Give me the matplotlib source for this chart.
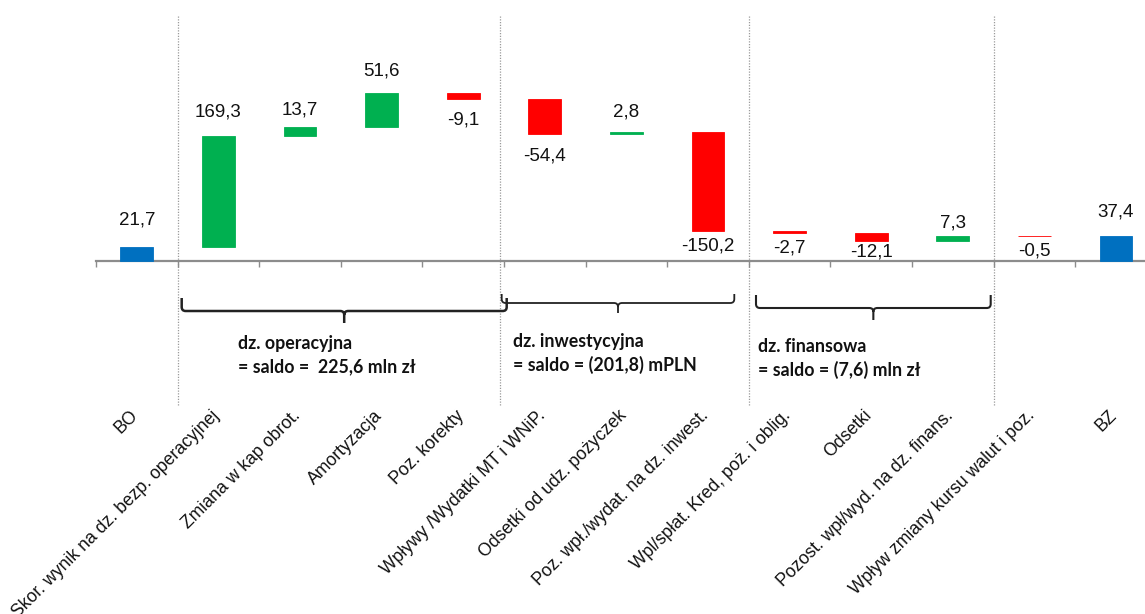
import numpy as np
import matplotlib
matplotlib.use('Agg')
import matplotlib.pyplot as plt
from matplotlib.path import Path
from matplotlib.patches import PathPatch

# ------------------------------------------------------------
# data
# ------------------------------------------------------------
categories = ['BO', 'Skor. wynik na dz. bezp. operacyjnej', 'Zmiana w kap obrot.',
              'Amortyzacja', 'Poz. korekty', 'Wpływy /Wydatki MT i WNiP.',
              'Odsetki od udz. pożyczek', 'Poz. wpł./wydat. na dz. inwest.',
              'Wpl/spłat. Kred, poż. i oblig.', 'Odsetki', 'Pozost. wpł/wyd. na dz. finans.',
              'Wpływ zmiany kursu walut i poz.', 'BZ']
values = [21.7, 169.3, 13.7, 51.6, -9.1, -54.4, 2.8, -150.2, -2.7, -12.1, 7.3, -0.5, 37.4]
is_total = [True] + [False] * 11 + [True]

group_names = ['dz. operacyjna', 'dz. inwestycyjna', 'dz. finansowa']
group_saldo = ['= saldo =  225,6 mln zł', '= saldo = (201,8) mPLN', '= saldo = (7,6) mln zł']

# ------------------------------------------------------------
# layout (pixels of the 1145x614 picture)
# ------------------------------------------------------------
W, H, DPI = 1145, 614, 100
X0_PX, STEP_PX = 96, 81.6
BASE_PX, PX_PER_UNIT = 261, 0.657

def px2x(px):
    return (px - X0_PX) / STEP_PX - 0.5

def py2y(py):
    return (BASE_PX - py) / PX_PER_UNIT

GREEN, RED, BLUE = '#00B050', '#FF0000', '#0070C0'
AXIS_GRAY = '#8C8C8C'

label_off_px = [27, 24, 17, 22, 21, 22, 20, 14.5, 15, 11, 13.5, 15, 24]

fig = plt.figure(figsize=(W / DPI, H / DPI), dpi=DPI)
n = len(values)
ax = fig.add_axes([X0_PX / W, 0, n * STEP_PX / W, 1])
ax.set_xlim(-0.5, n - 0.5)
ax.set_ylim(py2y(H), py2y(0))

# waterfall bottoms
bottoms, colors = [], []
running = 0.0
for v, tot in zip(values, is_total):
    if tot:
        bottoms.append(0.0)
        colors.append(BLUE)
        running = v
    else:
        bottoms.append(running if v >= 0 else running + v)
        colors.append(GREEN if v >= 0 else RED)
        running += v

x = np.arange(n)
heights = np.abs(values)
ax.bar(x, heights, bottom=bottoms, width=0.40, color=colors,
       edgecolor=colors, linewidth=0.6, zorder=3)

for i, v in enumerate(values):
    txt = ('%.1f' % v).replace('.', ',')
    if v >= 0:
        y = bottoms[i] + heights[i]
        off = label_off_px[i]
    else:
        y = bottoms[i]
        off = -label_off_px[i]
    ax.annotate(txt, (i, y), xytext=(0, off * 72 / DPI), textcoords='offset points',
                ha='center', va='center', fontsize=13.5, family='Liberation Sans',
                color='#111111', zorder=4)

# axis line with ticks at category boundaries
for s in ['top', 'right', 'left']:
    ax.spines[s].set_visible(False)
ax.spines['bottom'].set_position(('data', 0))
ax.spines['bottom'].set_color(AXIS_GRAY)
ax.spines['bottom'].set_linewidth(1.6)
ax.set_xticks(np.arange(n + 1) - 0.5)
ax.set_xticklabels([])
ax.tick_params(axis='x', direction='out', length=4, width=1, colors=AXIS_GRAY)
ax.set_yticks([])

# category labels
for i, lab in enumerate(categories):
    ax.text(i + 0.05, py2y(407), lab, rotation=45, ha='right', va='top',
            fontsize=12.7, family='Liberation Sans', color='#111111')

# dotted separators
for bx in [0.5, 4.45, 7.5, 10.5]:
    ax.plot([bx, bx], [py2y(16), py2y(406)], color='#9A9A9A', lw=0.9,
            linestyle=(0, (1, 1.2)), zorder=1, clip_on=False)

# braces under groups
def brace(x0, x1, y_top, y_mid, y_tip, lw):
    rx = 4 / STEP_PX
    ry = 4 / PX_PER_UNIT
    xm = (x0 + x1) / 2
    verts = [(x0, y_top), (x0, y_mid + ry), (x0, y_mid), (x0 + rx, y_mid),
             (xm - rx, y_mid), (xm, y_mid), (xm, y_mid - ry), (xm, y_tip),
             (xm, y_mid - ry), (xm, y_mid), (xm + rx, y_mid),
             (x1 - rx, y_mid), (x1, y_mid), (x1, y_mid + ry), (x1, y_top)]
    codes = [Path.MOVETO, Path.LINETO, Path.CURVE3, Path.CURVE3,
             Path.LINETO, Path.CURVE3, Path.CURVE3, Path.LINETO,
             Path.MOVETO, Path.CURVE3, Path.CURVE3,
             Path.LINETO, Path.CURVE3, Path.CURVE3, Path.LINETO]
    ax.add_patch(PathPatch(Path(verts, codes), fill=False, lw=lw,
                           edgecolor='#222222', clip_on=False, zorder=2))

brace_px = [(181.7, 506.7, 298, 311, 323, 1.8),
            (501.7, 734.3, 294, 303, 313, 1.3),
            (756.0, 990.7, 295, 308, 320, 1.5)]
text_px = [(238, 343), (513, 341), (758, 346)]

for g in range(len(group_names)):
    l, r, yt, ym, ytip, lw = brace_px[g]
    brace(px2x(l), px2x(r), py2y(yt), py2y(ym), py2y(ytip), lw)
    tx, ty = text_px[g]
    for k, line in enumerate([group_names[g], group_saldo[g]]):
        ax.text(px2x(tx), py2y(ty + 24 * k), line, ha='left', va='center',
                fontsize=12.8, family='Lato', fontweight='bold', color='#111111')

fig.savefig('out.png', dpi=DPI)
